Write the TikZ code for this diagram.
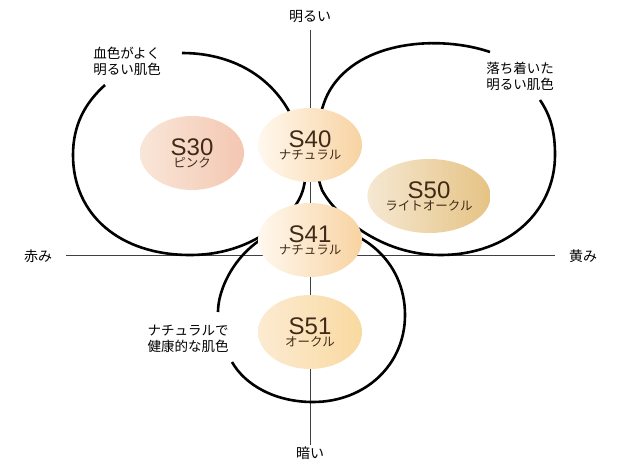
\documentclass[tikz,border=0pt]{standalone}
\usepackage{fontspec}
\setmainfont{Noto Sans CJK JP}
\newfontfamily\latn{Liberation Sans}
\usetikzlibrary{shapes.geometric}
\definecolor{pkL}{HTML}{F9E6D8}
\definecolor{pkR}{HTML}{F4C7B2}
\definecolor{ntL}{HTML}{FFF8EE}
\definecolor{ntR}{HTML}{F8D3A2}
\definecolor{okL}{HTML}{FCEBD2}
\definecolor{okR}{HTML}{F9D9A0}
\definecolor{loL}{HTML}{F5E8D2}
\definecolor{loR}{HTML}{E5C384}
\definecolor{txt}{HTML}{3F2A18}
\begin{document}
\begin{tikzpicture}[x=1pt,y=-1pt,
  loop/.style={line width=2.6pt},
  axis/.style={line width=0.6pt,draw=black!75},
  lab/.style={font=\fontsize{14}{16}\selectfont},
  note/.style={font=\fontsize{13.5}{16}\selectfont,align=left},
  shade/.style={ellipse,minimum width=104pt,minimum height=74pt,inner sep=0pt,align=center,text=txt},
]
\useasboundingbox (0,0) rectangle (620,470);
\draw[axis] (310,30) -- (310,445);
\draw[axis] (66,255) -- (555,255);
\node[lab] (top) at (310,17) {明るい};
\node[lab] (bot) at (310,453) {暗い};
\node[lab] (left) at (38,256) {赤み};
\node[lab] (right) at (583,256) {黄み};
\draw[loop] (182,53) .. controls (240,53) and (290,85) .. (303,150) .. controls (308,175) and (306,195) .. (290,212) .. controls (265,240) and (230,255) .. (190,255) .. controls (120,255) and (73,215) .. (73,155) .. controls (73,125) and (85,103) .. (105,85);
\draw[loop] (490,52) .. controls (440,35) and (360,40) .. (330,90) .. controls (315,115) and (312,165) .. (322,190) .. controls (335,215) and (380,255) .. (440,255) .. controls (510,255) and (555,210) .. (555,155) .. controls (555,130) and (550,115) .. (540,100);
\draw[loop] (218,312) .. controls (218,280) and (250,225) .. (310,225) .. controls (360,225) and (405,260) .. (405,315) .. controls (405,365) and (365,402) .. (313,402) .. controls (275,402) and (245,385) .. (232,362);
\node[note] (n1) at (127,61) {血色がよく\\明るい肌色};
\node[note] (n2) at (520,76) {落ち着いた\\明るい肌色};
\node[note] (n3) at (188,339) {ナチュラルで\\健康的な肌色};
\newcommand{\lbl}[2]{{\latn\fontsize{24}{26}\selectfont #1}\\[0pt]{\fontsize{12.5}{14}\selectfont #2}}
\node[shade,left color=pkL,right color=pkR] (s30) at (192,153) {\lbl{S30}{ピンク}};
\node[shade,left color=ntL,right color=ntR] (s40) at (310,145) {\lbl{S40}{ナチュラル}};
\node[shade,left color=ntL,right color=ntR] (s41) at (310,240) {\lbl{S41}{ナチュラル}};
\node[shade,left color=okL,right color=okR] (s51) at (310,332) {\lbl{S51}{オークル}};
\node[shade,left color=loL,right color=loR] (s50) at (429,196) {\lbl{S50}{ライトオークル}};
\end{tikzpicture}
\end{document}
